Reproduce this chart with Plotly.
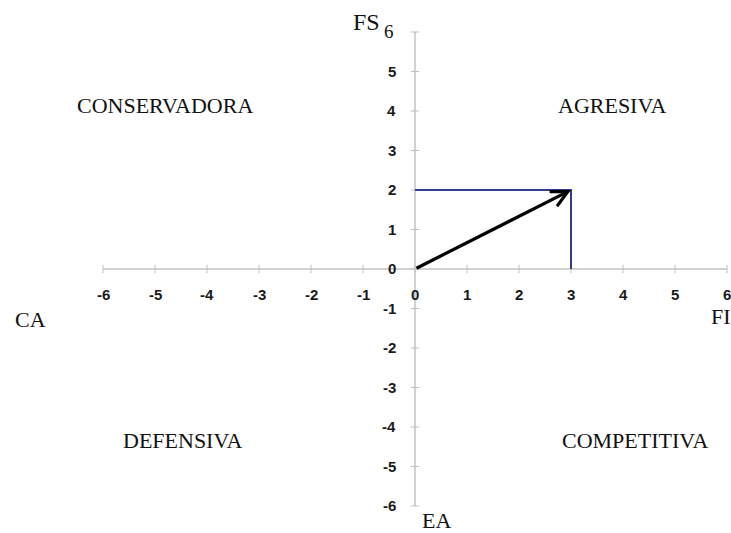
import plotly.graph_objects as go

# data
x_ticks = [-6, -5, -4, -3, -2, -1, 0, 1, 2, 3, 4, 5, 6]
y_ticks = [-6, -5, -4, -3, -2, -1, 0, 1, 2, 3, 4, 5]
y_top = 6
vec_x = 3
vec_y = 2
quadrants = ["CONSERVADORA", "AGRESIVA", "DEFENSIVA", "COMPETITIVA"]
quad_x = [-4.81, 3.79, -4.46, 4.23]
quad_y = [4.15, 4.15, -4.33, -4.33]
axis_names = ["CA", "FI", "EA"]

axis_color = "#d2d2d2"
navy = "#343c8c"

fig = go.Figure()

# axis lines
fig.add_trace(go.Scatter(x=[min(x_ticks), max(x_ticks)], y=[0, 0], mode="lines",
                         line=dict(color=axis_color, width=2), hoverinfo="skip"))
fig.add_trace(go.Scatter(x=[0, 0], y=[min(y_ticks), y_top], mode="lines",
                         line=dict(color=axis_color, width=2), hoverinfo="skip"))
# tick marks
fig.add_trace(go.Scatter(x=x_ticks, y=[0] * len(x_ticks), mode="markers",
                         marker=dict(symbol="line-ns", size=6, line=dict(color="#c0c0c0", width=1)),
                         hoverinfo="skip"))
fig.add_trace(go.Scatter(x=[0] * (len(y_ticks) + 1), y=y_ticks + [y_top], mode="markers",
                         marker=dict(symbol="line-ew", size=6, line=dict(color="#c0c0c0", width=1)),
                         hoverinfo="skip"))

# blue projection lines
fig.add_trace(go.Scatter(x=[0, vec_x, vec_x], y=[vec_y, vec_y, 0], mode="lines",
                         line=dict(color=navy, width=2), hoverinfo="skip"))

annotations = []
# vector arrow
annotations.append(dict(x=vec_x, y=vec_y, ax=0, ay=0, xref="x", yref="y", axref="x", ayref="y",
                        showarrow=True, arrowhead=5, arrowsize=1.0, arrowwidth=3.2,
                        arrowcolor="black", text=""))

tick_font = dict(family="Liberation Sans", size=15, color="#1a1a1a")
for v in x_ticks:
    annotations.append(dict(x=v, y=0, xref="x", yref="y", text="<b>%d</b>" % v, showarrow=False,
                            xanchor="center", yanchor="middle", yshift=-26, font=tick_font))
for v in y_ticks:
    annotations.append(dict(x=0, y=v, xref="x", yref="y", text="<b>%d</b>" % v, showarrow=False,
                            xanchor="right", yanchor="middle", xshift=-17, font=tick_font))

serif = dict(family="Liberation Serif", size=22, color="#111111")
for name, qx, qy in zip(quadrants, quad_x, quad_y):
    annotations.append(dict(x=qx, y=qy, xref="x", yref="y", text=name, showarrow=False,
                            xanchor="center", yanchor="middle", font=serif))

# axis name labels
name_font = dict(family="Liberation Serif", size=22, color="#111")
annotations.append(dict(x=-7.40, y=-1.29, xref="x", yref="y", text=axis_names[0], showarrow=False,
                        xanchor="center", yanchor="middle", font=name_font))
annotations.append(dict(x=5.65, y=-1.2, xref="x", yref="y", text=axis_names[1], showarrow=False,
                        xanchor="left", yanchor="middle", font=name_font))
annotations.append(dict(x=0.42, y=-6.38, xref="x", yref="y", text=axis_names[2], showarrow=False,
                        xanchor="center", yanchor="middle", font=name_font))
annotations.append(dict(x=-0.635, y=6.25, xref="x", yref="y", text="FS", showarrow=False,
                        xanchor="right", yanchor="middle",
                        font=dict(family="Liberation Serif", size=24, color="#111")))
annotations.append(dict(x=-0.5, y=6.02, xref="x", yref="y", text="6", showarrow=False,
                        xanchor="center", yanchor="middle",
                        font=dict(family="Liberation Serif", size=19, color="#111")))

fig.update_layout(
    width=731, height=533,
    margin=dict(l=0, r=0, t=0, b=0),
    paper_bgcolor="white", plot_bgcolor="white",
    showlegend=False,
    xaxis=dict(range=[-7.981, 6.077], visible=False, fixedrange=True),
    yaxis=dict(range=[-6.684, 6.810], visible=False, fixedrange=True),
    annotations=annotations,
)

fig.write_html("out.html", post_script="document.body.style.margin='0';",
               config={"displayModeBar": False})
